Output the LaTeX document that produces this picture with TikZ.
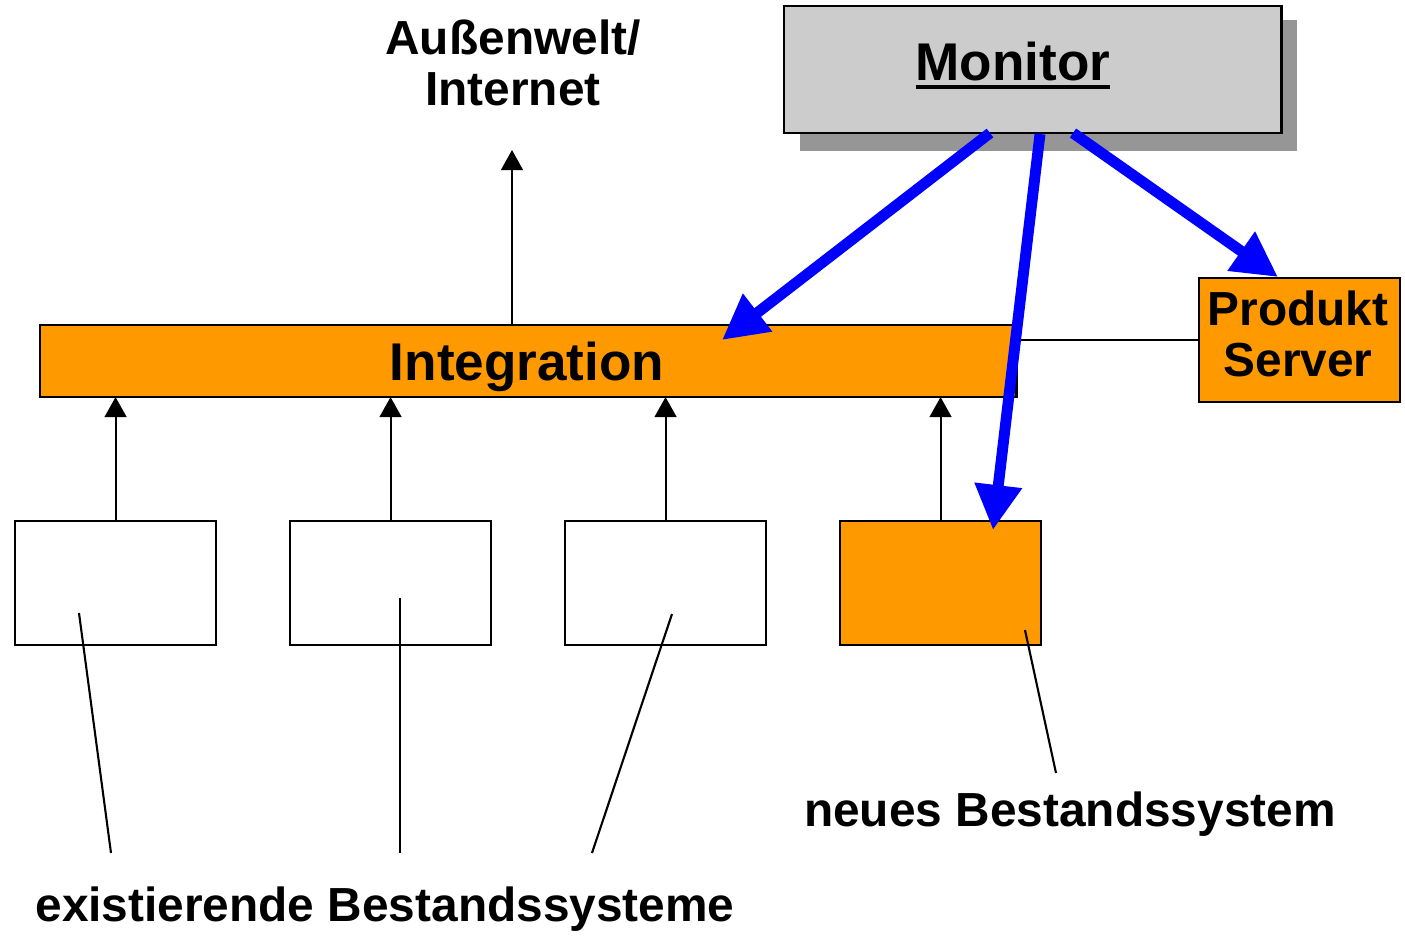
\documentclass[tikz,border=0pt]{standalone}
\usepackage{fontspec}
\setmainfont{Liberation Sans}
\usetikzlibrary{arrows.meta}
\definecolor{boxorange}{HTML}{FF9900}
\definecolor{monitorgray}{HTML}{CCCCCC}
\definecolor{shadowgray}{HTML}{969696}
\definecolor{flowblue}{HTML}{0000FF}
% underline with a heavier rule than \underline gives
\newcommand\ulword[1]{\setbox0\hbox{#1}\rlap{\rule[-2.6pt]{\wd0}{1.15pt}}\box0}
\begin{document}
\begin{tikzpicture}[x=0.01cm,y=-0.01cm,
  every node/.style={inner sep=0pt, outer sep=0pt},
  lbl/.style={font=\bfseries\fontsize{13.6}{14.5}\selectfont, align=center},
  big/.style={font=\bfseries\fontsize{15.1}{17}\selectfont},
  block/.style={draw, line width=0.7pt, rectangle, anchor=north west},
  sysbox/.style={block, minimum width=2.01cm, minimum height=1.24cm},
  feed/.style={-{Triangle[length=5.7pt,width=6.2pt]}, line width=0.6pt},
  ctrl/.style={-{Triangle[length=12.8pt,width=12.8pt]}, line width=3.1pt, draw=flowblue},
  pointer/.style={line width=0.6pt}]
\useasboundingbox (0,0) rectangle (1405,936);

% monitor with its drop shadow
\fill[shadowgray] (800,20) rectangle (1297,151);
\node[block, fill=monitorgray, minimum width=4.97cm, minimum height=1.27cm] (monitor) at (784,6) {};
\node[big, anchor=base] (monitorlabel) at (1013,80) {\ulword{Monitor}};

% outside world (base anchor = last line)
\node[lbl, anchor=base] (ext) at (513,105) {Außenwelt/\\Internet};
\coordinate (extin) at (512,150);

% integration layer and product server
\node[block, fill=boxorange, minimum width=9.76cm, minimum height=0.72cm] (integ) at (40,325) {};
\node[big, anchor=base] (integlabel) at (527,380) {Integration};
\node[sysbox, fill=boxorange] (prod) at (1199,278) {};
\node[lbl, anchor=base] (prodlabel) at (1298,376) {Produkt\\Server};
\draw[line width=0.7pt] (integ.east |- prod.west) -- (prod.west);
\draw[feed] (integ.north -| extin) -- (extin);

% back-end systems
\node[sysbox] (sys1) at (15,521) {};
\node[sysbox] (sys2) at (290,521) {};
\node[sysbox] (sys3) at (565,521) {};
\node[sysbox, fill=boxorange] (sys4) at (840,521) {};
\foreach \s in {sys1,sys2,sys3,sys4}
  \draw[feed] (\s.north) -- (\s.north |- integ.south);

% captions and their pointers
\node[lbl, anchor=base] (exist) at (385,921) {existierende Bestandssysteme};
\node[lbl, anchor=base] (neu) at (1070,826) {neues Bestandssystem};
\coordinate (p1a) at (79,613);  \coordinate (p1b) at (111,853);
\coordinate (p2a) at (400,598); \coordinate (p2b) at (400,853);
\coordinate (p3a) at (672,614); \coordinate (p3b) at (592,853);
\coordinate (p4a) at (1025,630); \coordinate (p4b) at (1056,773);
\draw[pointer] (p1a) -- (p1b);
\draw[pointer] (p2a) -- (p2b);
\draw[pointer] (p3a) -- (p3b);
\draw[pointer] (p4a) -- (p4b);

% control flows from the monitor
\coordinate (m1) at (990,133);  \coordinate (t1) at (722,340);
\coordinate (m2) at (1040,134); \coordinate (t2) at (993,530);
\coordinate (m3) at (1073,133); \coordinate (t3) at (1278,277);
\draw[ctrl] (m1) -- (t1);
\draw[ctrl] (m2) -- (t2);
\draw[ctrl] (m3) -- (t3);
\end{tikzpicture}
\end{document}
